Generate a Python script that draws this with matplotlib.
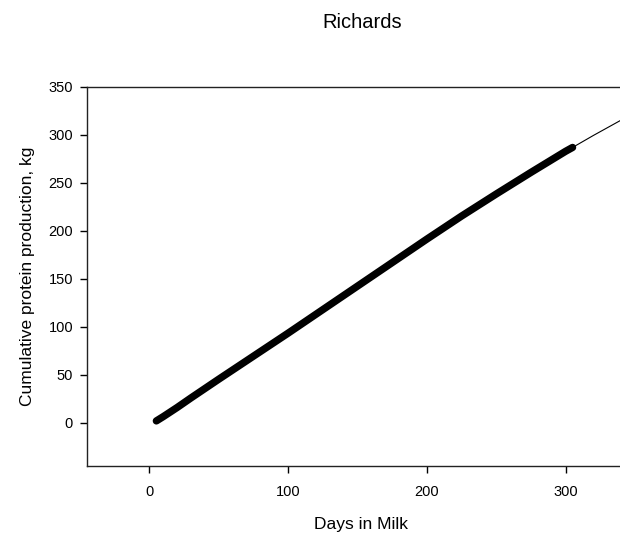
import matplotlib
matplotlib.use("Agg")
import matplotlib.pyplot as plt

plt.rcParams['font.family'] = ['Liberation Sans', 'DejaVu Sans']

obs_days = [5, 10, 20, 30, 50, 75, 100, 125, 150, 175, 200, 225, 250, 275, 300, 305]
obs_kg = [2, 6.5, 16, 26, 45.5, 69.5, 93.5, 118, 142.5, 167, 191.5, 215.5, 238.5, 261, 283, 287]

# Richards fit, continues past the data
fit_days = [5, 10, 20, 30, 50, 75, 100, 125, 150, 175, 200, 225, 250, 275, 300, 305, 320, 340, 360]
fit_kg = [2, 6.5, 16, 26, 45.5, 69.5, 93.5, 118, 142.5, 167, 191.5, 215.5, 238.5, 261, 283, 287, 299.5, 315.5, 331]

x_ticks = [0, 100, 200, 300]
y_ticks = [0, 50, 100, 150, 200, 250, 300, 350]

fig = plt.figure(figsize=(6.2, 5.38), dpi=100)
ax = fig.add_axes([87 / 620, 72 / 538, 548 / 620, 379 / 538])

ax.plot(obs_days, obs_kg, color='black', lw=5.3, solid_capstyle='round',
        solid_joinstyle='round', zorder=2)
ax.plot(fit_days, fit_kg, color='black', lw=0.8, zorder=3)

ax.set_xlim(-45, 350)
ax.set_ylim(-45, 350)
ax.set_xticks(x_ticks)
ax.set_yticks(y_ticks)
ax.tick_params(direction='out', length=5, width=1, labelsize=10.5)
ax.tick_params(axis='x', pad=9)
ax.tick_params(axis='y', pad=5)
for s in ax.spines.values():
    s.set_linewidth(1)
    s.set_color('#222222')

ax.set_xlabel('Days in Milk', fontsize=12.5, labelpad=13)
ax.set_ylabel('Cumulative protein production, kg', fontsize=12.5, labelpad=10)
fig.text(362 / 620, 1 - 22 / 538, 'Richards', fontsize=14.5, ha='center', va='center')

fig.savefig('out.png', dpi=100)
